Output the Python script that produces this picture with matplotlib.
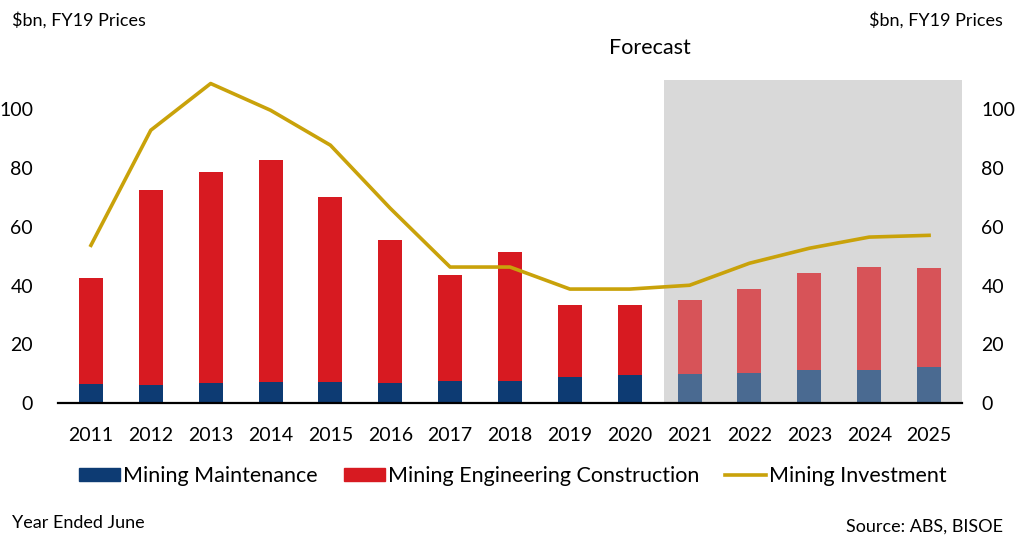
import numpy as np
import matplotlib.pyplot as plt

plt.rcParams['font.family'] = ['Lato', 'DejaVu Sans']

years = list(range(2011, 2026))
maintenance = [6.6, 6.0, 6.7, 7.3, 7.3, 6.7, 7.6, 7.6, 8.7, 9.5, 9.9, 10.2, 11.2, 11.2, 12.1]
total = [42.5, 72.4, 78.6, 82.7, 70.1, 55.4, 43.5, 51.4, 33.3, 33.3, 35.0, 38.8, 44.2, 46.3, 45.9]
engineering = [t - m for t, m in zip(total, maintenance)]
investment = [53.7, 92.9, 108.8, 99.7, 87.8, 66.3, 46.3, 46.3, 38.8, 38.8, 40.1, 47.6, 52.7, 56.5, 57.1]
first_forecast = 2021

NAVY = '#0d3b73'
RED = '#d71a21'
GOLD = '#c9a20a'

fig = plt.figure(figsize=(10.17, 5.35), dpi=100)
ax = fig.add_axes([58 / 1017, 1 - 403 / 535, 904 / 1017, 323 / 535])

x = np.arange(len(years))
alphas = [0.7 if y >= first_forecast else 1.0 for y in years]

# forecast shading sits behind the bars
fc_start = years.index(first_forecast) - 0.42
ax.axvspan(fc_start, len(years) - 0.45, color='#d9d9d9', lw=0, zorder=0)

for i in x:
    ax.bar(i, maintenance[i], width=0.4, color=NAVY, alpha=alphas[i], zorder=2)
    ax.bar(i, engineering[i], width=0.4, bottom=maintenance[i], color=RED,
           alpha=alphas[i], zorder=2)
ax.plot(x, investment, color=GOLD, lw=2.6, zorder=3)

ax.set_xlim(-0.55, len(years) - 0.45)
ax.set_ylim(0, 110)
ax.set_yticks(range(0, 101, 20))
ax.set_xticks(x)
ax.set_xticklabels([str(y) for y in years], fontsize=14)
ax.tick_params(axis='y', labelsize=14, length=0, pad=18)
ax.tick_params(axis='x', length=0, pad=17)
for s in ['top', 'left', 'right']:
    ax.spines[s].set_visible(False)
ax.spines['bottom'].set_linewidth(1.6)
ax.spines['bottom'].set_zorder(4)

ax2 = ax.twinx()
ax2.set_ylim(ax.get_ylim())
ax2.set_yticks(range(0, 101, 20))
ax2.tick_params(axis='y', labelsize=14, length=0, pad=14)
for s in ax2.spines.values():
    s.set_visible(False)

handles = [
    plt.Rectangle((0, 0), 1, 1, color=NAVY),
    plt.Rectangle((0, 0), 1, 1, color=RED),
    plt.Line2D([], [], color=GOLD, lw=2.6),
]
labels = ['Mining Maintenance', 'Mining Engineering Construction', 'Mining Investment']
fig.legend(handles, labels, loc='center', bbox_to_anchor=(513 / 1017, 1 - 476 / 535),
           ncol=3, frameon=False, fontsize=15.5, handlelength=1.9, handleheight=0.6,
           handletextpad=0.15, columnspacing=1.2)

fig.text(12 / 1017, 1 - 20 / 535, '$bn, FY19 Prices', fontsize=13, va='center')
fig.text(1003 / 1017, 1 - 20 / 535, '$bn, FY19 Prices', fontsize=13, va='center', ha='right')
fig.text(650 / 1017, 1 - 48 / 535, 'Forecast', fontsize=15.5, va='center', ha='center')
fig.text(12 / 1017, 1 - 523 / 535, 'Year Ended June', fontsize=13, va='center')
fig.text(1003 / 1017, 1 - 527 / 535, 'Source: ABS, BISOE', fontsize=13, va='center', ha='right')

fig.savefig('out.png', dpi=100)
